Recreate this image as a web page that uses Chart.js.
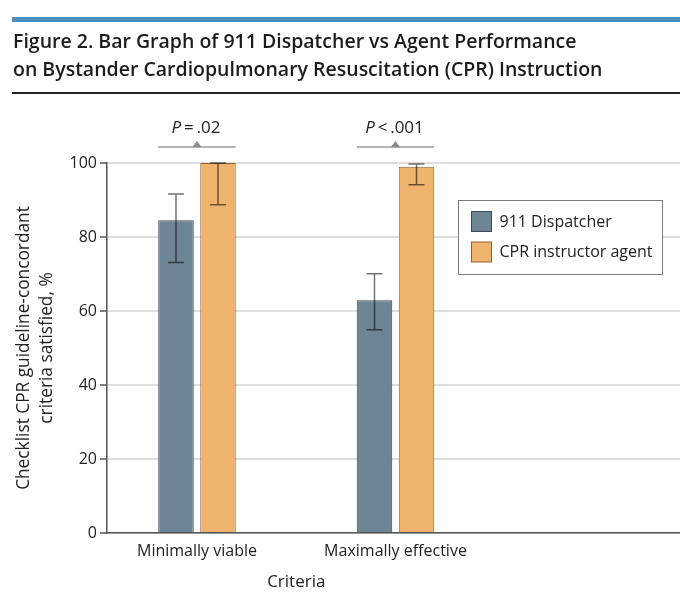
<!DOCTYPE html>
<html><head><meta charset="utf-8">
<script src="https://cdn.jsdelivr.net/npm/chart.js@4.4.1/dist/chart.umd.min.js"></script>
<style>
html,body{margin:0;padding:0;background:#fff;}
#wrap{position:relative;width:680px;height:608px;overflow:hidden;}
#topbar{position:absolute;left:12px;top:17px;width:668px;height:4.5px;background:#4a8fbf;}
#title{position:absolute;left:13px;top:26.6px;margin:0;font-family:'Open Sans',sans-serif;font-size:19.5px;line-height:28.4px;font-weight:600;color:#1c1c1c;white-space:nowrap;}
#rule{position:absolute;left:12px;top:92.3px;width:668px;height:2px;background:#222;}
canvas{position:absolute;left:0;top:0;}
</style></head>
<body>
<div id="wrap">
<canvas id="chart" width="680" height="608"></canvas>
<div id="topbar"></div>
<h1 id="title">Figure 2. Bar Graph of 911 Dispatcher vs Agent Performance<br>on Bystander Cardiopulmonary Resuscitation (CPR) Instruction</h1>
<div id="rule"></div>
</div>
<script>
// ---- data ----
const categories = ['Minimally viable', 'Maximally effective'];
const seriesNames = ['911 Dispatcher', 'CPR instructor agent'];
const dispatcherValues = [84.5, 62.9];
const dispatcherLow = [73.1, 54.9];
const dispatcherHigh = [91.6, 70.1];
const agentValues = [100, 99.0];
const agentLow = [88.7, 94.1];
const agentHigh = [100, 99.7];
const pLabels = ['= .02', '< .001'];
const yTicks = [0, 20, 40, 60, 80, 100];
const xTitle = 'Criteria';
const yTitle = ['Checklist CPR guideline-concordant', 'criteria satisfied, %'];

const FONT = "'Open Sans', sans-serif";
const colors = ['#6d8594', '#eeb36c'];
const borders = ['#3b4a54', '#8c6232'];
const errLow = [dispatcherLow, agentLow];
const errHigh = [dispatcherHigh, agentHigh];

const errorBars = {
  id: 'errorBars',
  afterDatasetsDraw(chart) {
    const ctx = chart.ctx, y = chart.scales.y;
    ctx.save();
    ctx.strokeStyle = 'rgba(0,0,0,0.55)';
    ctx.lineWidth = 1.5;
    chart.data.datasets.forEach((ds, di) => {
      chart.getDatasetMeta(di).data.forEach((bar, i) => {
        const lo = y.getPixelForValue(errLow[di][i]);
        const hi = y.getPixelForValue(errHigh[di][i]);
        const cap = 8;
        ctx.beginPath();
        ctx.moveTo(bar.x, lo); ctx.lineTo(bar.x, hi);
        ctx.moveTo(bar.x - cap, lo); ctx.lineTo(bar.x + cap, lo);
        ctx.moveTo(bar.x - cap, hi); ctx.lineTo(bar.x + cap, hi);
        ctx.stroke();
      });
    });
    ctx.restore();
  }
};

const annotations = {
  id: 'annotations',
  afterDraw(chart) {
    const ctx = chart.ctx, area = chart.chartArea;
    const m0 = chart.getDatasetMeta(0).data, m1 = chart.getDatasetMeta(1).data;
    ctx.save();
    categories.forEach((c, i) => {
      const l = m0[i].x - m0[i].width / 2, r = m1[i].x + m1[i].width / 2;
      const cx = (l + r) / 2, ly = area.top - 16;
      ctx.strokeStyle = '#9a9a9a'; ctx.lineWidth = 1.5;
      ctx.beginPath(); ctx.moveTo(l, ly); ctx.lineTo(r, ly); ctx.stroke();
      ctx.fillStyle = '#8a8a8a';
      ctx.beginPath(); ctx.moveTo(cx - 4.5, ly); ctx.lineTo(cx + 4.5, ly); ctx.lineTo(cx, ly - 6); ctx.closePath(); ctx.fill();
      ctx.fillStyle = '#222'; ctx.textBaseline = 'alphabetic';
      ctx.font = 'italic 17px ' + FONT;
      const wP = ctx.measureText('P').width;
      ctx.font = '17px ' + FONT;
      const rest2 = '\u2009' + pLabels[i].replace(' ', '\u2009');
      const wR = ctx.measureText(rest2).width;
      const x0 = cx - (wP + wR) / 2 - 1;
      ctx.font = 'italic 17px ' + FONT; ctx.textAlign = 'left';
      ctx.fillText('P', x0, area.top - 30.3);
      ctx.font = '17px ' + FONT;
      ctx.fillText(rest2, x0 + wP, area.top - 30.3);
    });
    const xs = chart.scales.x;
    ctx.font = '17px ' + FONT; ctx.fillStyle = '#222'; ctx.textAlign = 'center'; ctx.textBaseline = 'alphabetic';
    ctx.fillText(xTitle, xs.getPixelForValue((1 + categories.length) / 2), 587);
    const bx = area.right - 221.5, by = area.top + 37.5, bw = 204, bh = 74;
    ctx.fillStyle = '#fff'; ctx.fillRect(bx, by, bw, bh);
    ctx.strokeStyle = '#7a7a7a'; ctx.lineWidth = 1; ctx.strokeRect(bx, by, bw, bh);
    ctx.font = '16px ' + FONT; ctx.textAlign = 'left'; ctx.textBaseline = 'middle';
    seriesNames.forEach((n, k) => {
      const sy = by + 11 + k * 30.5;
      ctx.fillStyle = colors[k]; ctx.fillRect(bx + 13, sy, 20, 20);
      ctx.strokeStyle = borders[k]; ctx.strokeRect(bx + 13, sy, 20, 20);
      ctx.fillStyle = '#222'; ctx.fillText(n, bx + 41, sy + 10.5);
    });
    ctx.restore();
  }
};

const datasets = [dispatcherValues, agentValues].map((vals, k) => ({
  label: seriesNames[k],
  data: vals.map((v, i) => ({ x: i + 1, y: v })),
  backgroundColor: colors[k],
  borderColor: borders[k],
  borderWidth: 1,
  categoryPercentage: 0.4232,
  barPercentage: 0.845
}));

new Chart(document.getElementById('chart'), {
  type: 'bar',
  data: { datasets },
  plugins: [errorBars, annotations],
  options: {
    responsive: false,
    animation: false,
    devicePixelRatio: 1,
    layout: { padding: { top: 163, left: 0, right: 0, bottom: 0 } },
    plugins: { legend: { display: false }, tooltip: { enabled: false } },
    scales: {
      x: {
        type: 'linear',
        offset: false,
        bounds: 'data',
        min: 0.5466, max: 3.4332,
        afterBuildTicks(scale) { scale.ticks = categories.map((c, i) => ({ value: i + 1 })); },
        afterFit(scale) { scale.height = 75; },
        grid: { display: false, drawTicks: false, offset: false },
        border: { color: '#555', width: 1.5 },
        ticks: {
          autoSkip: false, maxRotation: 0, padding: 9,
          color: '#222', font: { family: FONT, size: 16 },
          callback: (v) => categories[v - 1] || ''
        }
      },
      y: {
        min: 0, max: 100,
        afterBuildTicks(scale) { scale.ticks = yTicks.map(v => ({ value: v })); },
        afterFit(scale) { scale.width = 107; },
        grid: { color: '#dedede', lineWidth: 2, tickColor: '#555', tickLength: 7, tickWidth: 1.5 },
        border: { color: '#555', width: 1.5 },
        ticks: { padding: 3, color: '#222', font: { family: FONT, size: 16 } },
        title: {
          display: true, text: yTitle, color: '#222',
          font: { family: FONT, size: 17.3, lineHeight: 1.33 },
          padding: { top: 12.5, bottom: 0 }
        }
      }
    }
  }
});
</script>
</body></html>
